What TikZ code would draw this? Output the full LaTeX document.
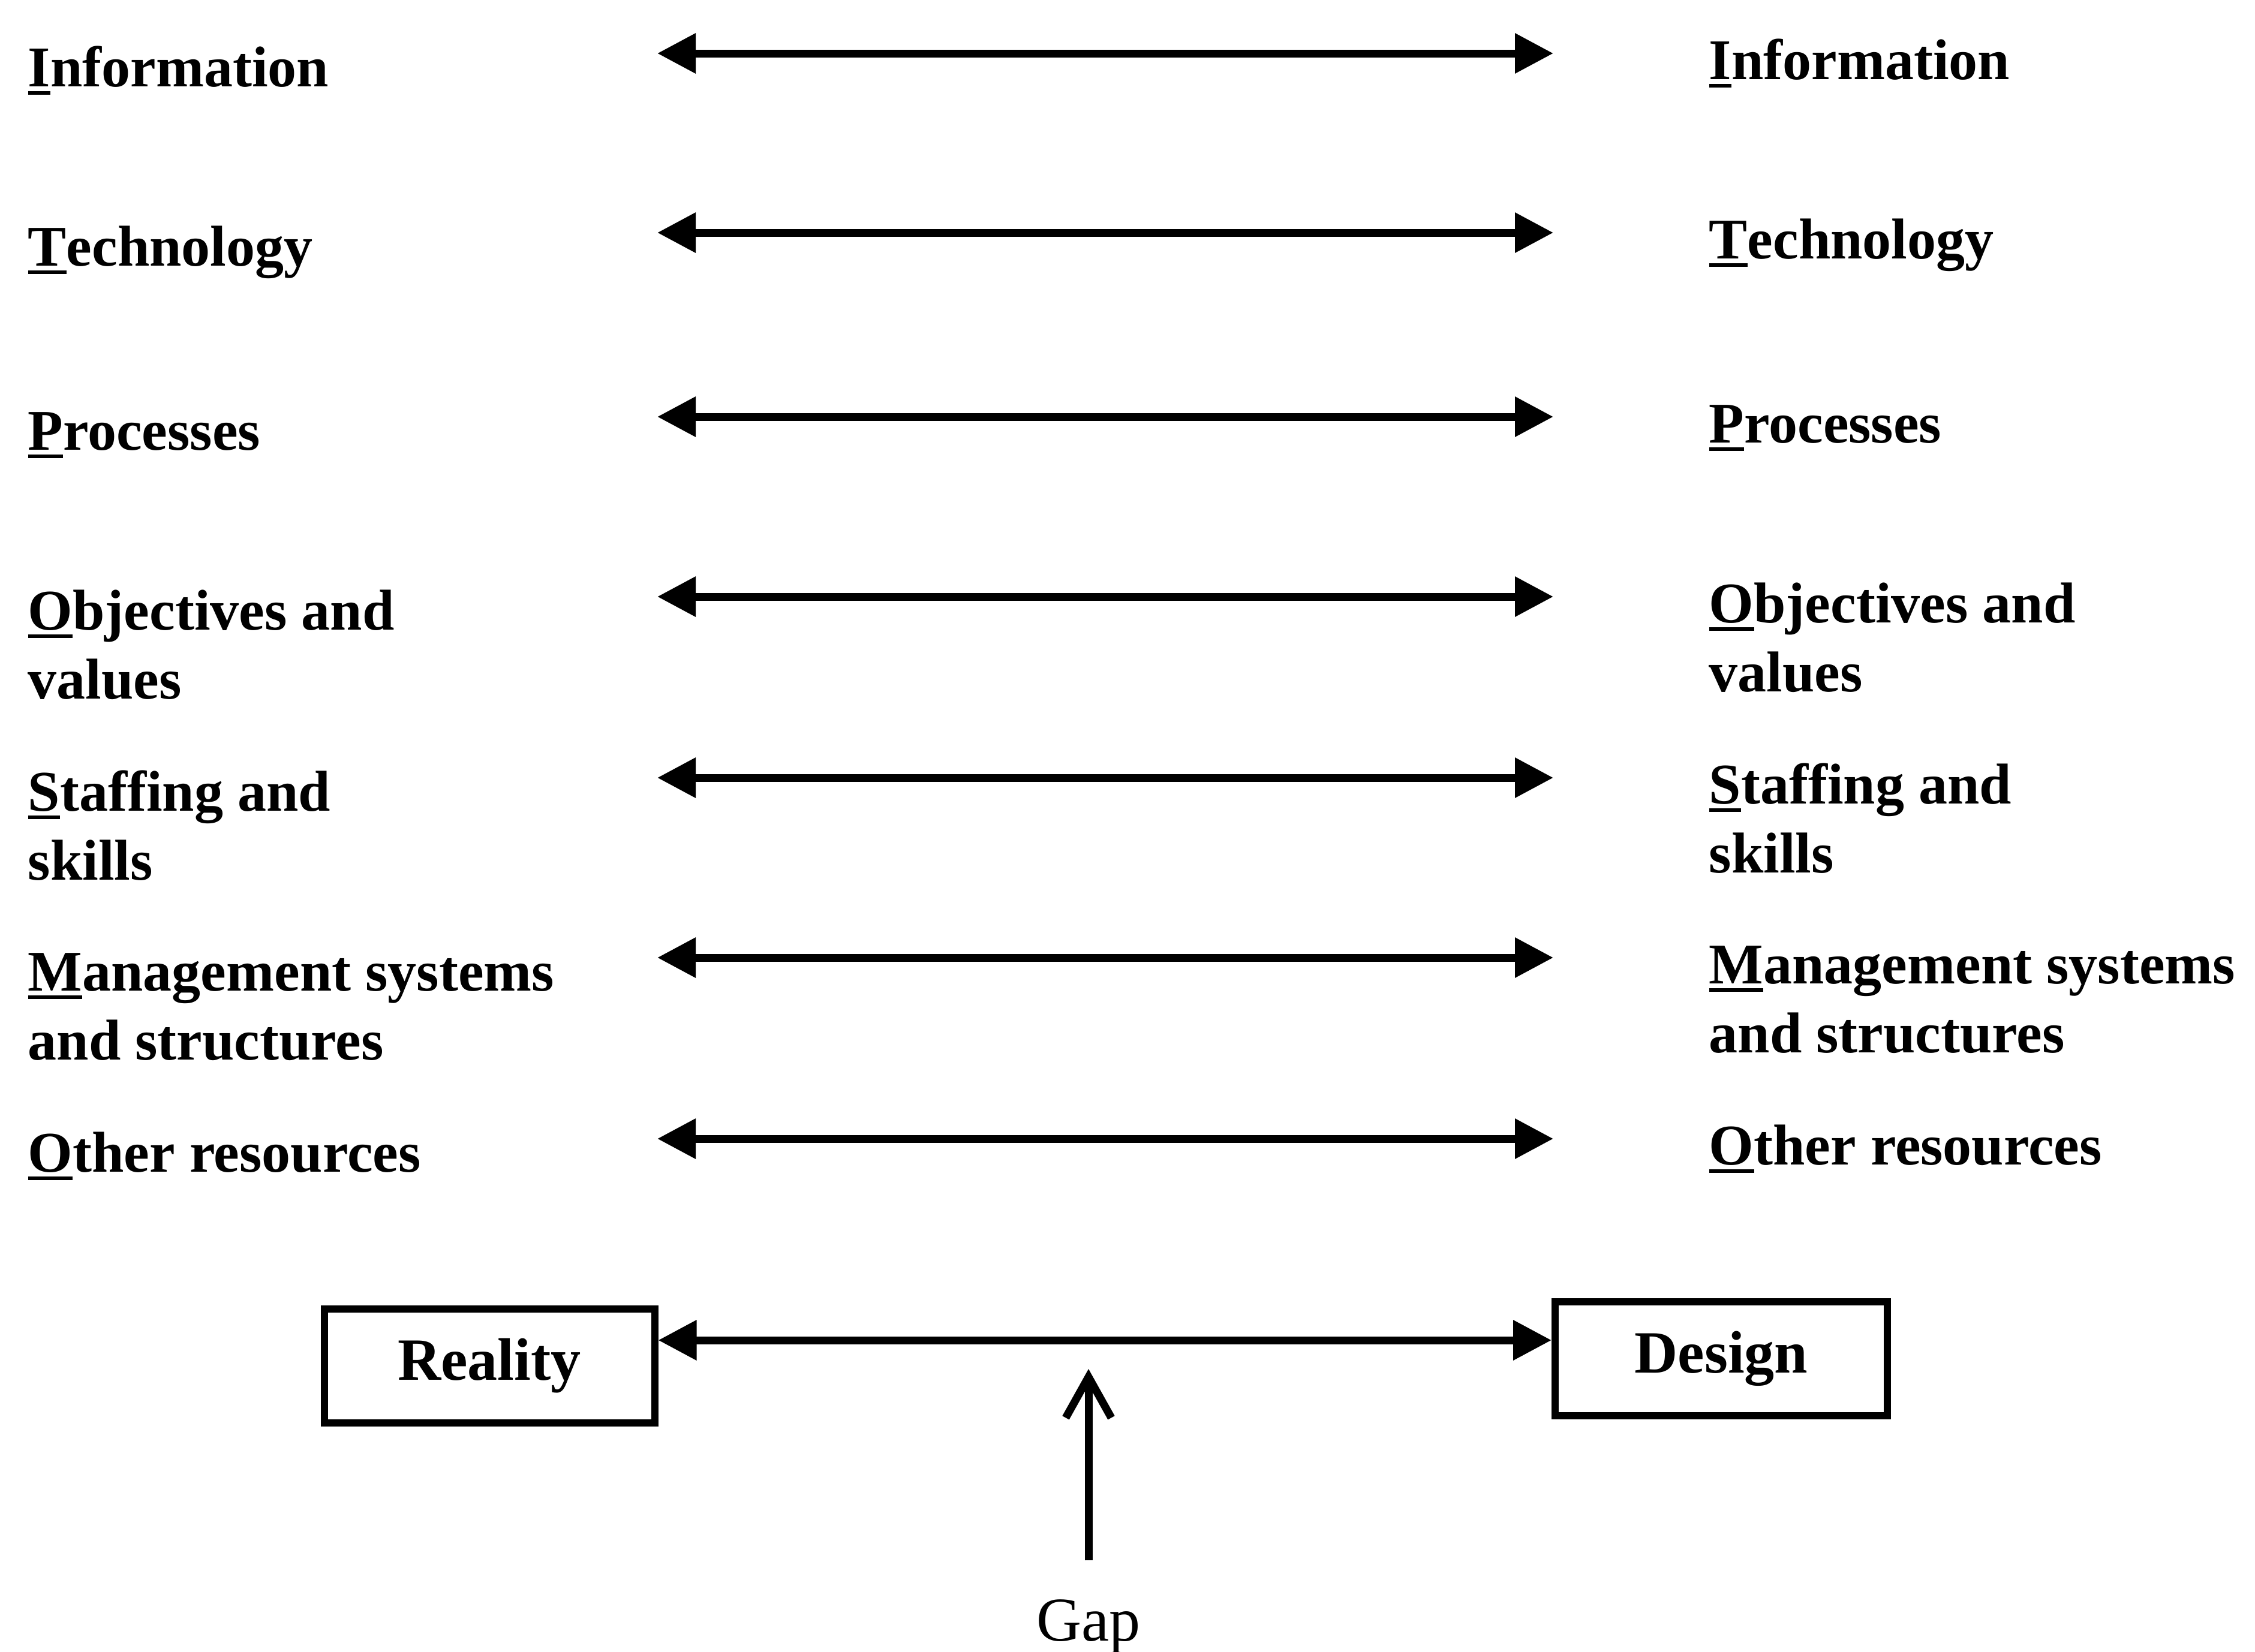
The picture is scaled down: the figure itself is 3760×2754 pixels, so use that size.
\documentclass[tikz,border=0pt]{standalone}
\usepackage{fontspec}
\setmainfont{Liberation Serif}
\usetikzlibrary{arrows.meta}
\newcommand\firstu[1]{\setbox0\hbox{#1}\rlap{\rule[-3.6pt]{\wd0}{1.6pt}}\box0}
\newcommand\lblfont{\bfseries\fontsize{24}{28.8}\selectfont}
\tikzset{
  lbl/.style={anchor=base west, inner sep=0pt, font=\lblfont},
  link/.style={line width=3.25pt, {Triangle[length=16pt,width=16pt]}-{Triangle[length=16pt,width=16pt]}},
  statebox/.style={draw, line width=3pt, inner sep=0pt, minimum height=47.5pt,
    font=\bfseries\fontsize{25}{30}\selectfont},
  gaparrow/.style={line width=3.25pt, -{Straight Barb[length=17pt,width=19pt]}},
}
\newcommand\two[2]{\begin{tabular}[t]{@{}l@{}}#1\\#2\end{tabular}}
\begin{document}
\begin{tikzpicture}[x=0.25pt,y=-0.25pt]
\useasboundingbox (0,0) rectangle (3760,2754);

% left labels
\node[lbl] (l1) at (46,144)  {\firstu{I}nformation};
\node[lbl] (l2) at (46,443)  {\firstu{T}echnology};
\node[lbl] (l3) at (46,750)  {\firstu{P}rocesses};
\node[lbl] (l4) at (46,1050) {\two{\firstu{O}bjectives and}{values}};
\node[lbl] (l5) at (46,1352) {\two{\firstu{S}taffing and}{skills}};
\node[lbl] (l6) at (46,1652) {\two{\firstu{M}anagement systems}{and structures}};
\node[lbl] (l7) at (46,1954) {\firstu{O}ther resources};

% right labels
\node[lbl] (r1) at (2849,132)  {\firstu{I}nformation};
\node[lbl] (r2) at (2849,431)  {\firstu{T}echnology};
\node[lbl] (r3) at (2849,738)  {\firstu{P}rocesses};
\node[lbl] (r4) at (2849,1038) {\two{\firstu{O}bjectives and}{values}};
\node[lbl] (r5) at (2849,1340) {\two{\firstu{S}taffing and}{skills}};
\node[lbl] (r6) at (2849,1640) {\two{\firstu{M}anagement systems}{and structures}};
\node[lbl] (r7) at (2849,1942) {\firstu{O}ther resources};

% arrow end points
\foreach \i/\y in {1/89,2/388,3/695,4/995,5/1297,6/1597,7/1899}{
  \coordinate (a\i L) at (1096,\y);
  \coordinate (a\i R) at (2590,\y);
  \draw[link] (a\i L) -- (a\i R);
}

% boxes
\node[statebox, minimum width=137.75pt] (reality) at (816,2278) {Reality};
\node[statebox, minimum width=138.5pt] (design) at (2870,2266) {Design};
\coordinate (gapline) at (0,2235);
\draw[link] (reality.east |- gapline) -- (design.west |- gapline);

% gap
\node[inner sep=0pt, anchor=base, font=\fontsize{26}{31}\selectfont] (gap) at (1815,2736) {Gap};
\coordinate (gaptip) at (1815,2283);
\draw[gaparrow, shorten <=16pt] (gap.north) -- (gaptip);
\end{tikzpicture}
\end{document}
